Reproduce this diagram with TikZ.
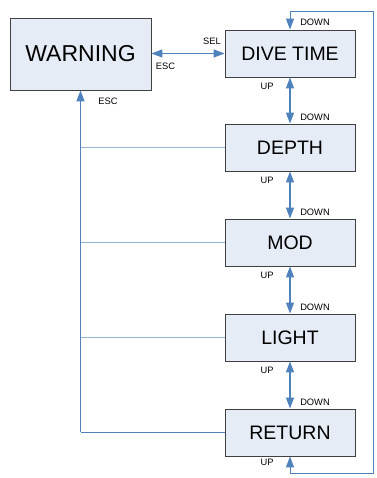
\documentclass[tikz,border=0pt]{standalone}
\usepackage{fontspec}
\setmainfont{Liberation Sans}
\usetikzlibrary{arrows.meta,shadows}

\definecolor{boxFill}{RGB}{230,236,246}
\definecolor{boxDraw}{RGB}{64,64,64}
\definecolor{linkColor}{RGB}{79,129,189}
\definecolor{linkLight}{RGB}{149,179,215}

\tikzset{
  menubox/.style={draw=boxDraw,line width=0.9pt,fill=boxFill,inner sep=0pt,
    minimum width=130pt,minimum height=47pt,font=\fontsize{19.5}{22}\selectfont,
    drop shadow={shadow xshift=0.9pt,shadow yshift=-0.9pt,fill=gray!70,opacity=1}},
  warnbox/.style={menubox,minimum width=141pt,minimum height=72pt,
    font=\fontsize{23}{26}\selectfont},
  tip/.tip={Triangle[length=11pt,width=8pt]},
  link/.style={draw=linkColor,line width=1.4pt,tip-tip},
  loopline/.style={draw=linkColor,line width=1pt,tip-tip},
  escline/.style={draw=linkLight,line width=1.5pt},
  lbl/.style={inner sep=0pt,outer sep=0pt,font=\fontsize{9.3}{10}\selectfont}
}

\begin{document}
\begin{tikzpicture}[x=1pt,y=1pt]
\path[use as bounding box,fill=white] (0,0) rectangle (376,478);

% boxes
\node[warnbox] (warning) at ( 80.5,424.0) {WARNING};
\node[menubox] (divetime) at (290.0,424.5) {DIVE TIME};
\node[menubox] (depth) at (290.0,330.5) {DEPTH};
\node[menubox] (mod) at (290.0,235.5) {MOD};
\node[menubox] (light) at (290.0,140.5) {LIGHT};
\node[menubox] (return) at (290.0, 45.5) {RETURN};

% escape lines back to WARNING
\draw[escline] (depth.west) -- (depth.west -| warning.south);
\draw[escline] (mod.west) -- (mod.west -| warning.south);
\draw[escline] (light.west) -- (light.west -| warning.south);
\draw[draw=linkColor,line width=1pt] (return.west) -- (return.west -| warning.south);
\draw[draw=linkColor,line width=1.4pt,-tip]
  (return.west -| warning.south) -- (warning.south);

% menu links
\draw[link] (warning.east |- divetime.west) -- (divetime.west);
\draw[link] (divetime.south) -- (depth.north);
\draw[link] (depth.south) -- (mod.north);
\draw[link] (mod.south) -- (light.north);
\draw[link] (light.south) -- (return.north);

% wrap-around
\coordinate (loopA) at (373,466);
\coordinate (loopB) at (373,4);
\draw[loopline] (divetime.north) |- (loopA) -- (loopB) -| (return.south);

% labels
\node[lbl] (selLbl) at (212,437) {SEL};
\node[lbl] (escLbl) at (165.5,412) {ESC};
\node[lbl] (escLbl2) at (108,377) {ESC};
\node[lbl] (down0) at (315,455.5) {DOWN};
\node[lbl] (up1) at (267,392) {UP};
\node[lbl] (down1) at (315,361) {DOWN};
\node[lbl] (up2) at (267,298) {UP};
\node[lbl] (down2) at (315,266) {DOWN};
\node[lbl] (up3) at (267,203) {UP};
\node[lbl] (down3) at (315,171) {DOWN};
\node[lbl] (up4) at (267,108) {UP};
\node[lbl] (down4) at (315,76) {DOWN};
\node[lbl] (up5) at (267,16) {UP};
\end{tikzpicture}
\end{document}
